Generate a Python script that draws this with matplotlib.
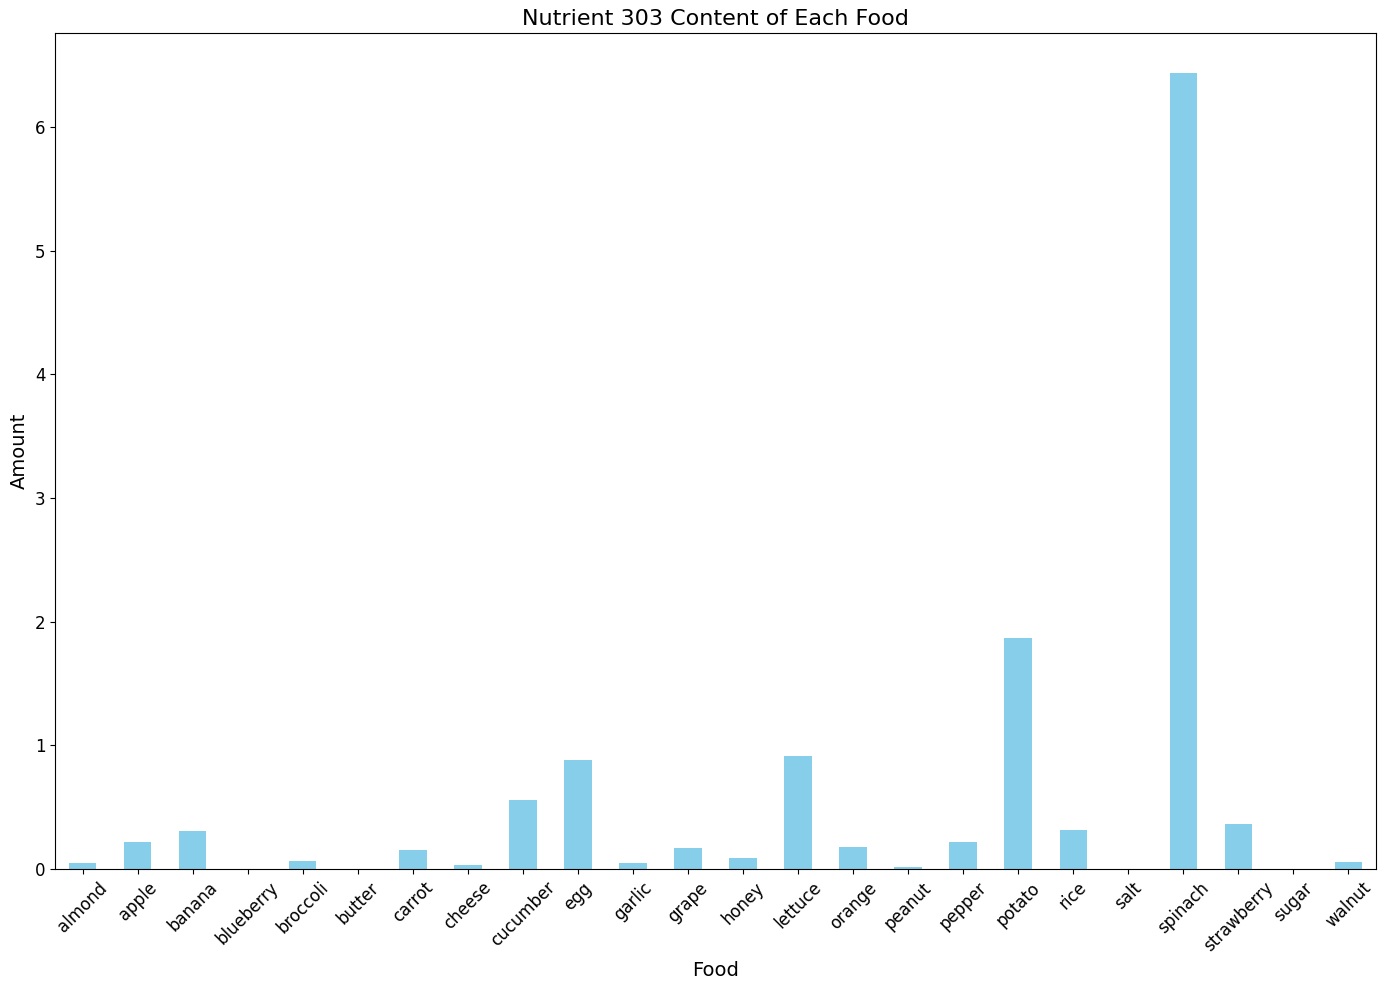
import matplotlib
matplotlib.use("Agg")
import matplotlib.pyplot as plt
import numpy as np

foods = ["almond", "apple", "banana", "blueberry", "broccoli", "butter", "carrot", "cheese",
         "cucumber", "egg", "garlic", "grape", "honey", "lettuce", "orange", "peanut",
         "pepper", "potato", "rice", "salt", "spinach", "strawberry", "sugar", "walnut"]
amounts = [0.049, 0.22, 0.309, 0.0, 0.065, 0.0, 0.154, 0.033,
           0.561, 0.878, 0.049, 0.171, 0.089, 0.911, 0.179, 0.016,
           0.22, 1.87, 0.317, 0.0, 6.44, 0.366, 0.0, 0.057]

fig = plt.figure(figsize=(13.86, 9.89), dpi=100)
ax = fig.add_axes([55/1386, 1 - 869/989, (1376-55)/1386, (869-33)/989])
x = np.arange(len(foods))
ax.bar(x, amounts, width=0.5, color="skyblue")
ax.set_xlim(-0.5, len(foods) - 0.5)
ax.set_xticks(x)
ax.set_xticklabels(foods, rotation=45, fontsize=12)
ax.tick_params(axis="y", labelsize=12)
ax.set_title("Nutrient 303 Content of Each Food", fontsize=16)
ax.set_xlabel("Food", fontsize=14)
ax.set_ylabel("Amount", fontsize=14)
fig.savefig("out.png", dpi=100)
